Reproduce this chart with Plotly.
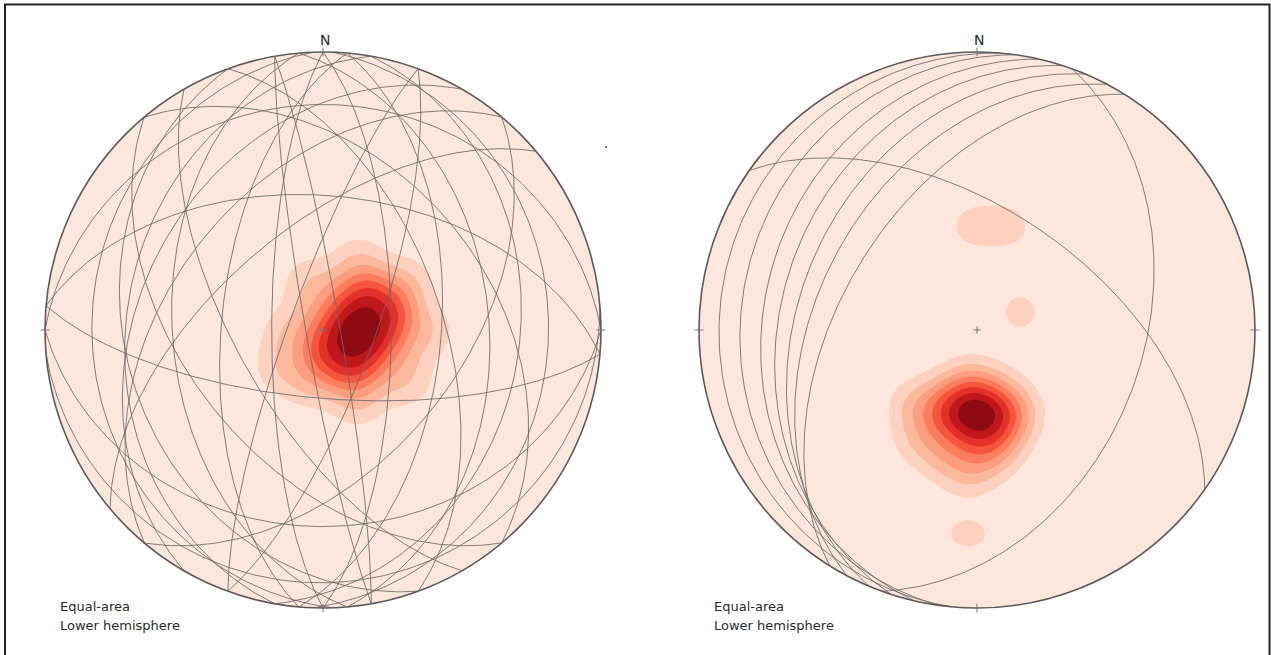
import numpy as np
import plotly.graph_objects as go

# ---------------- data ----------------
# Great circles (strike, dip; right-hand rule), left net
left_strikes = [0, 5, 355, 10, 2, 350, 180, 185, 175, 190, 178, 170,
                40, 220, 230, 210, 320, 140, 150, 90, 270, 275, 95, 85,
                20, 200, 160, 340]
left_dips = [70, 55, 40, 30, 20, 85, 75, 60, 45, 30, 18, 85,
             50, 45, 60, 35, 40, 50, 65, 30, 20, 50, 70, 10,
             75, 80, 30, 55]
# Great circles, right net
right_strikes = [185, 188, 193, 198, 203, 208, 212, 305, 20]
right_dips = [8, 16, 24, 30, 36, 42, 50, 55, 40]

# Poles used for density contours (trend, plunge in degrees, count)
left_pole_trend = [181.5, 155.8, 107.1, 73.6, 59.6, 52.7, 48.8,
                   151.5, 136.0, 118.8, 102.5, 89.2, 79.2, 71.9,
                   78.5, 52.2, 22.8, 333.4, 201.9, 159.0, 130.4, 104.2,
                   91.0, 60.0, 26.0, 341.1, 267.2, 197.6, 155.2, 121.8, 230.5]
left_pole_plunge = [82.0, 84.9, 85.4, 83.0, 79.5, 75.7, 71.8,
                    75.1, 76.4, 76.6, 75.6, 73.6, 70.9, 67.8,
                    66.3, 70.1, 76.8, 84.7, 83.7, 75.7, 69.4, 66.0,
                    57.3, 59.8, 66.1, 74.2, 78.5, 73.1, 65.1, 59.2, 72.1]
left_pole_count = [1, 1, 1, 2, 1, 1, 1,
                   1, 1, 1, 2, 1, 1, 1,
                   1, 1, 1, 1, 1, 1, 1, 1,
                   1, 1, 1, 1, 1, 1, 1, 1, 1]

right_pole_trend = [206.6, 194.0, 180, 166.0, 153.4,
                    207.1, 191.3, 173.4, 157.0,
                    195.3, 184.2, 172.7, 161.8,
                    186.5, 178.7,
                    221.6, 208.8, 194.3, 183.2, 171.3,
                    357.7, 17.1, 67.3, 182.5]
right_pole_plunge = [62.6, 64.7, 65.5, 64.7, 62.6,
                     68.5, 70.5, 70.7, 69.2,
                     59.0, 60.0, 59.8, 58.5,
                     75.7, 54.6,
                     60.4, 52.3, 49.9, 45.9, 51.6,
                     59.3, 57.9, 76.3, 27.3]
right_pole_count = [1, 1, 2, 1, 1,
                    1, 1, 1, 1,
                    1, 1, 1, 1,
                    1, 1,
                    1, 1, 1, 1, 1,
                    1, 1, 1, 1]

# stray mark seen outside left net (unit coords)
stray_point = [1.018, 0.658]

band_colors = ["#fde6db", "#fcd1bf", "#fcb89d", "#fc9d7f", "#fb7d5e",
               "#f5553d", "#e3302a", "#c0171d", "#8e0b12"]

CIRCLE_COLOR = "#5a5a5a"
GC_COLOR = "rgba(105,105,105,0.85)"
TEXT_COLOR = "#2a2a2a"


# ---------------- helpers ----------------
def great_circle(strike, dip, n=181):
    s = np.radians(strike)
    d = np.radians(dip)
    r = np.radians(np.linspace(0, 180, n))
    S = np.array([np.sin(s), np.cos(s), 0.0])
    D = np.array([np.cos(d) * np.sin(s + np.pi / 2),
                  np.cos(d) * np.cos(s + np.pi / 2), -np.sin(d)])
    L = np.outer(np.cos(r), S) + np.outer(np.sin(r), D)
    f = 1.0 / np.sqrt(1.0 - L[:, 2])
    return L[:, 0] * f, L[:, 1] * f


def density(trends, plunges, counts, k=100.0, n=281):
    g = np.linspace(-1, 1, n)
    X, Y = np.meshgrid(g, g)
    R2 = X ** 2 + Y ** 2
    inside = R2 <= 1.0
    fac = np.sqrt(np.clip(2 - R2, 0, None))
    E = X * fac
    N = Y * fac
    U = np.clip(R2, 0, 1) - 1
    t = np.radians(np.array(trends))
    p = np.radians(np.array(plunges))
    pe = np.cos(p) * np.sin(t)
    pn = np.cos(p) * np.cos(t)
    pu = -np.sin(p)
    Z = np.zeros_like(X)
    for a, b, c, w in zip(pe, pn, pu, counts):
        dot = np.abs(E * a + N * b + U * c)
        Z += w * np.exp(k * (dot - 1))
    Z[~inside] = 0
    return g, Z


W, H = 1271, 655
R_AX = 1.05
fig = go.Figure()

nets = [
    dict(xa="x", ya="y", strikes=left_strikes, dips=left_dips,
         trend=left_pole_trend, plunge=left_pole_plunge, count=left_pole_count, cx=323),
    dict(xa="x2", ya="y2", strikes=right_strikes, dips=right_dips,
         trend=right_pole_trend, plunge=right_pole_plunge, count=right_pole_count, cx=977),
]

colorscale = [[i / 8, c] for i, c in enumerate(band_colors)]
shapes = []
annotations = []

theta = np.linspace(0, 2 * np.pi, 361)
for net in nets:
    g, Z = density(net["trend"], net["plunge"], net["count"])
    step = Z.max() / 9.0
    Zn = Z / step
    fig.add_trace(go.Contour(
        x=g, y=g, z=Zn, xaxis=net["xa"], yaxis=net["ya"],
        autocontour=False,
        contours=dict(start=1, end=8, size=1, coloring="fill", showlines=False),
        colorscale=colorscale, showscale=False, line=dict(width=0),
        hoverinfo="skip"))
    xs, ys = [], []
    for s, d in zip(net["strikes"], net["dips"]):
        gx, gy = great_circle(s, d)
        xs += list(gx) + [None]
        ys += list(gy) + [None]
    fig.add_trace(go.Scatter(x=xs, y=ys, mode="lines", xaxis=net["xa"], yaxis=net["ya"],
                             line=dict(color=GC_COLOR, width=1.0), hoverinfo="skip"))

    xr = net["xa"]
    yr = net["ya"]
    # white mask outside the primitive
    path = f"M {-R_AX},{-R_AX} L {R_AX},{-R_AX} L {R_AX},{R_AX} L {-R_AX},{R_AX} Z "
    cxs = np.cos(theta)
    cys = np.sin(theta)
    path += "M " + " L ".join(f"{a:.5f},{b:.5f}" for a, b in zip(cxs, cys)) + " Z"
    shapes.append(dict(type="path", path=path, xref=xr, yref=yr, fillcolor="white",
                       line=dict(width=0), layer="above", fillrule="evenodd"))
    # primitive circle
    shapes.append(dict(type="circle", xref=xr, yref=yr, x0=-1, y0=-1, x1=1, y1=1,
                       line=dict(color=CIRCLE_COLOR, width=1.6), layer="above"))
    # cardinal ticks
    tl = 0.016
    for (a, b) in [(0, 1), (0, -1), (1, 0), (-1, 0)]:
        shapes.append(dict(type="line", xref=xr, yref=yr,
                           x0=a * (1 - tl), y0=b * (1 - tl), x1=a * (1 + tl), y1=b * (1 + tl),
                           line=dict(color="#777777", width=1), layer="above"))
    # centre cross
    cc = 0.013
    shapes.append(dict(type="line", xref=xr, yref=yr, x0=-cc, y0=0, x1=cc, y1=0,
                       line=dict(color="#777777", width=1), layer="above"))
    shapes.append(dict(type="line", xref=xr, yref=yr, x0=0, y0=-cc, x1=0, y1=cc,
                       line=dict(color="#777777", width=1), layer="above"))
    annotations.append(dict(text="N", x=0.008, y=1.008, xref=xr, yref=yr, showarrow=False,
                            xanchor="center", yanchor="bottom",
                            font=dict(family="DejaVu Sans", size=14, color=TEXT_COLOR)))
    tx = (net["cx"] - 265) / W
    annotations.append(dict(text="Equal-area", x=tx, y=1 - 606.5 / H, xref="paper", yref="paper",
                            showarrow=False, xanchor="left", yanchor="middle",
                            font=dict(family="DejaVu Sans", size=13, color=TEXT_COLOR)))
    annotations.append(dict(text="Lower hemisphere", x=tx, y=1 - 625.5 / H, xref="paper",
                            yref="paper", showarrow=False, xanchor="left", yanchor="middle",
                            font=dict(family="DejaVu Sans", size=13, color=TEXT_COLOR)))

# stray dot
shapes.append(dict(type="circle", xref="x", yref="y",
                   x0=stray_point[0] - 0.004, x1=stray_point[0] + 0.004,
                   y0=stray_point[1] - 0.004, y1=stray_point[1] + 0.004,
                   fillcolor="#555555", line=dict(width=0), layer="above"))

# outer frame
shapes.append(dict(type="rect", xref="paper", yref="paper", x0=5 / W, x1=1269.5 / W,
                   y0=-0.02, y1=1 - 4.5 / H, line=dict(color="#222222", width=2),
                   layer="above"))

half = R_AX * 278
xl = [(323 - half) / W, (323 + half) / W]
xr_ = [(977 - half) / W, (977 + half) / W]
yd = [(H - 330 - half) / H, (H - 330 + half) / H]
ax = dict(range=[-R_AX, R_AX], visible=False, showgrid=False, zeroline=False, fixedrange=True)

fig.update_layout(
    width=W, height=H, margin=dict(l=0, r=0, t=0, b=0),
    paper_bgcolor="white", plot_bgcolor="white", showlegend=False,
    xaxis=dict(ax, domain=xl), yaxis=dict(ax, domain=yd),
    xaxis2=dict(ax, domain=xr_), yaxis2=dict(ax, domain=yd),
    shapes=shapes, annotations=annotations,
)

fig.write_html("out.html", config={"displayModeBar": False},
               post_script="document.body.style.margin='0px';")
